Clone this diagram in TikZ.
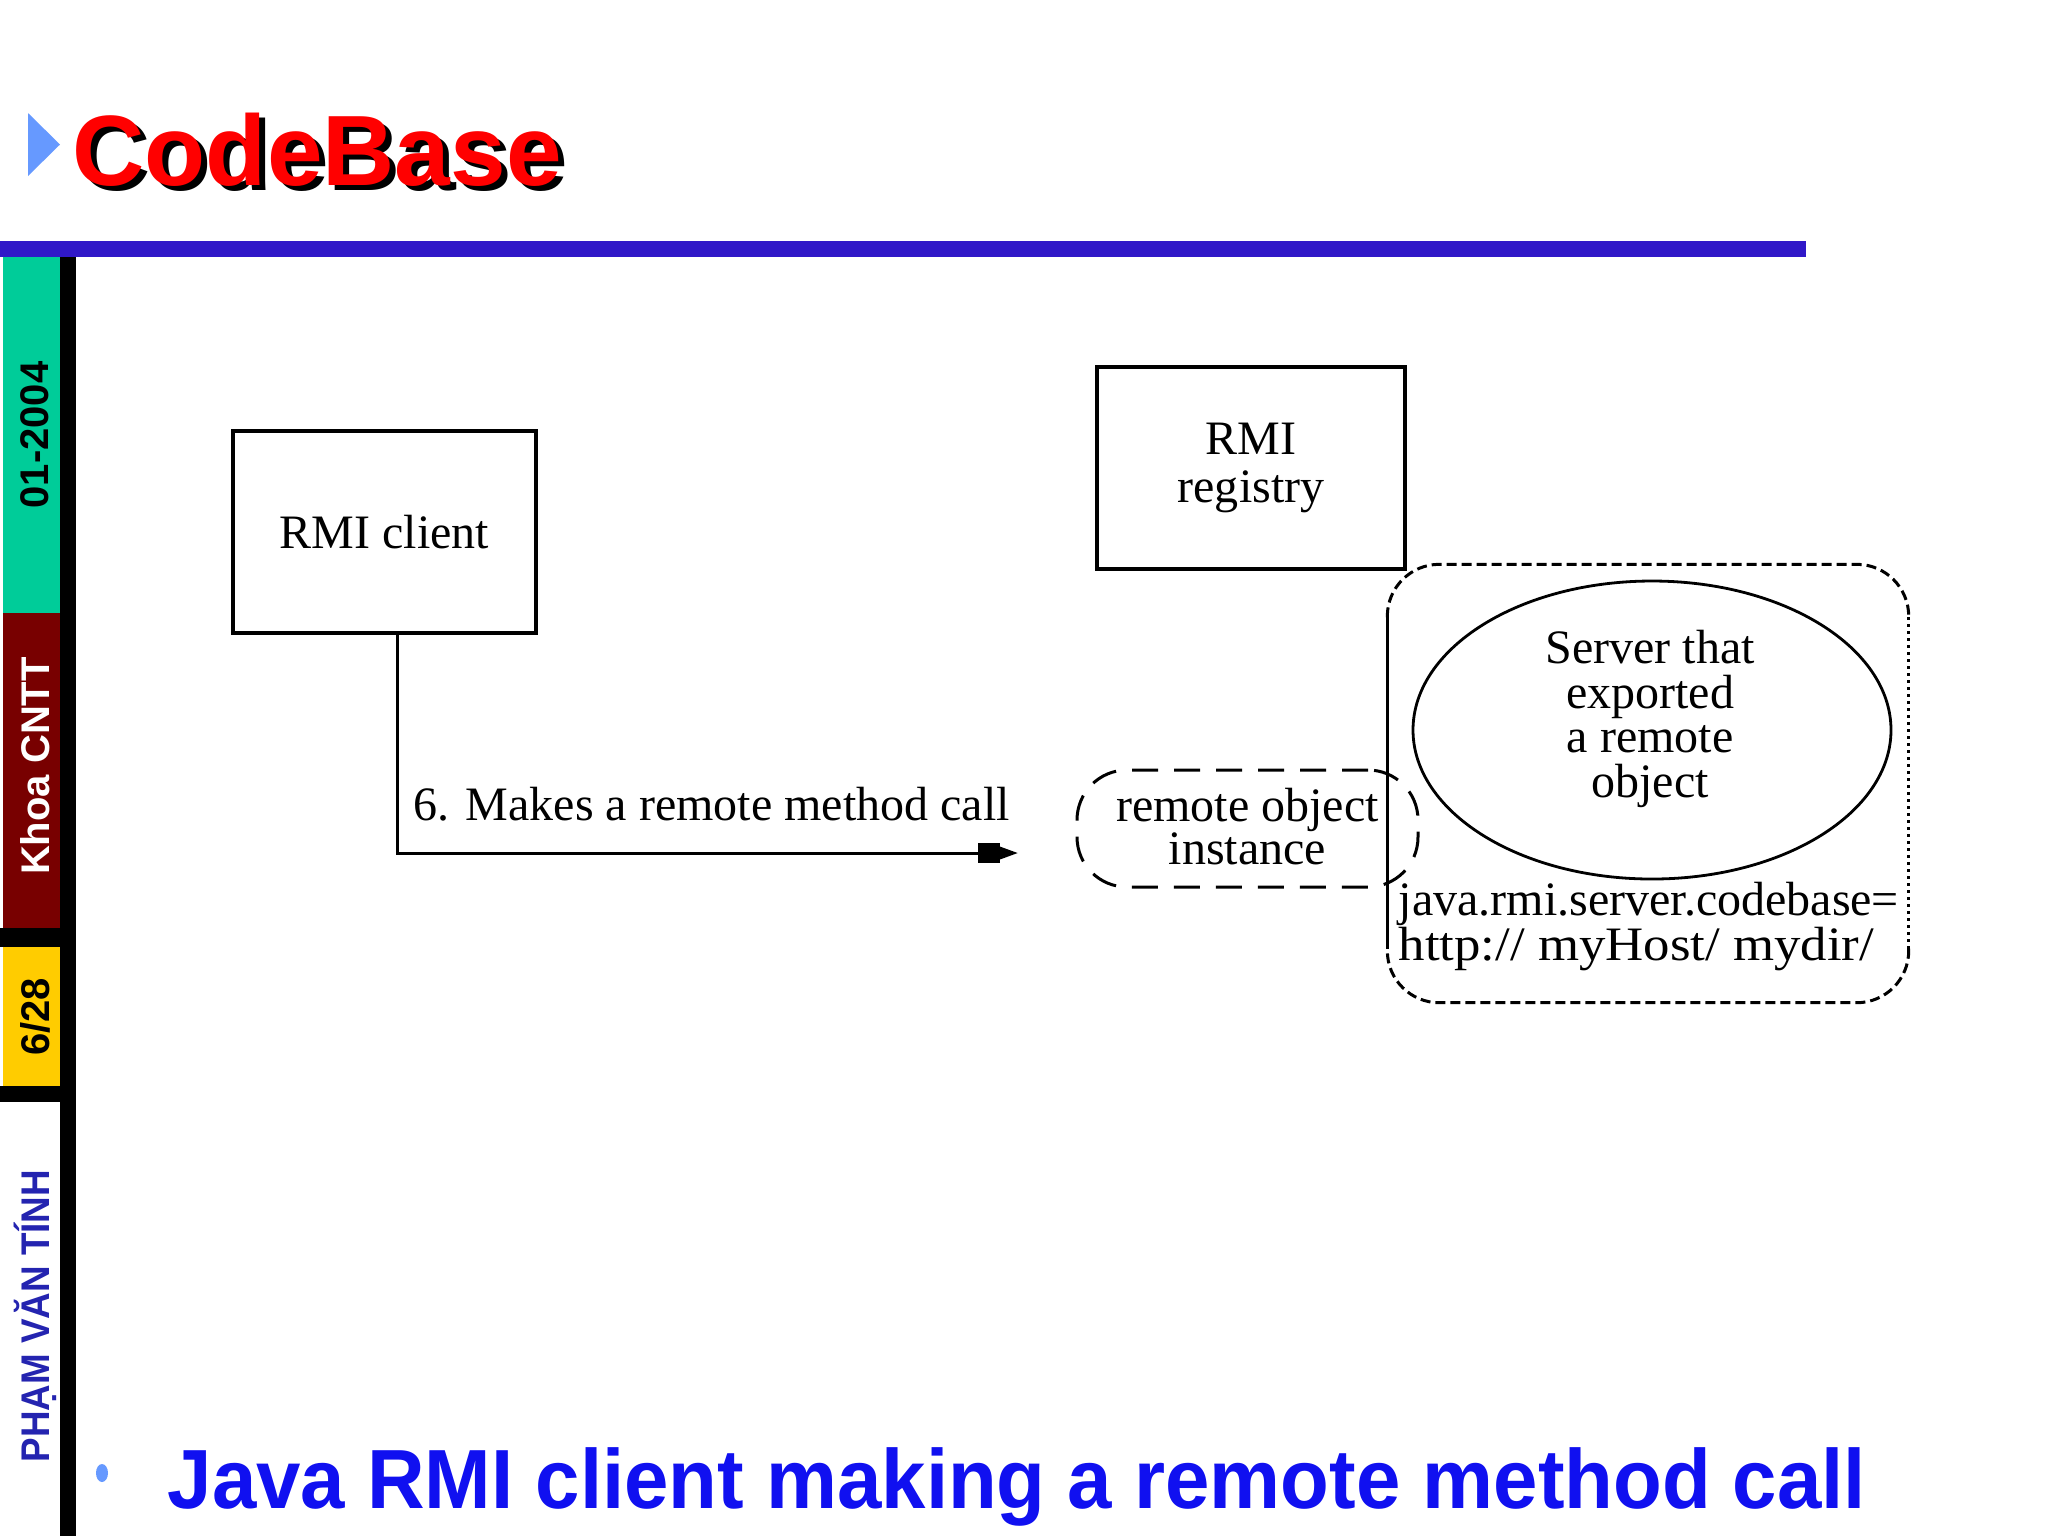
\documentclass[tikz,border=0pt]{standalone}
\usepackage{fontspec}
\setmainfont{Liberation Serif}
\newfontfamily\arialf{Liberation Sans}
\usetikzlibrary{shapes.geometric,arrows.meta,calc}
\definecolor{barblue}{RGB}{48,24,200}
\definecolor{sidegreen}{RGB}{0,204,153}
\definecolor{sidered}{RGB}{120,0,0}
\definecolor{sideyellow}{RGB}{255,204,0}
\definecolor{nameblue}{RGB}{36,36,176}
\definecolor{tribblue}{RGB}{102,153,255}
\definecolor{bottomblue}{RGB}{16,16,240}
\newcommand\dfont{\fontsize{13.66pt}{13.66pt}\selectfont}
\newcommand\sidefont{\arialf\bfseries\fontsize{11.38pt}{11.38pt}\selectfont}
\tikzset{
  boxnode/.style={draw, line width=0.32mm, rectangle, inner sep=0pt, font=\dfont, align=center},
  sidetext/.style={rotate=90, font=\sidefont, inner sep=0pt},
  conn/.style={line width=0.3mm, -{Rectangle[length=2.2mm,width=2mm,sep=0pt]Triangle[length=1.8mm,width=1.2mm,sep=0pt]}},
  dashlong/.style={line width=0.3mm, dash pattern=on 2.6mm off 1.6mm},
  dashshort/.style={line width=0.3mm, dash pattern=on 1mm off 0.5mm},
  dotright/.style={line width=0.28mm, dash pattern=on 0.25mm off 0.45mm},
  solidline/.style={line width=0.32mm},
  titletext/.style={font=\arialf\bfseries\fontsize{28.45pt}{28.45pt}\selectfont, inner sep=0pt, anchor=base west},
  plaintext/.style={font=\dfont, inner sep=0pt}
}
\begin{document}
\begin{tikzpicture}[x=0.1mm,y=-0.1mm]
\useasboundingbox (0,0) rectangle (2048,1536);
\fill[white] (0,0) rectangle (2048,1536);

% title (red text with black drop shadow)
\fill[tribblue] (28,113) -- (60,144.5) -- (28,176) -- cycle;
\node[titletext, text=red] (title) at (72,185) {\makebox[0pt][l]{\hspace{1.7pt}\raisebox{-1.7pt}{\color{black}CodeBase}}CodeBase};

% blue bar
\fill[barblue] (0,241) rectangle (1806,257);

% sidebar
\fill[sidegreen] (3,257) rectangle (60,613);
\fill[sidered] (3,613) rectangle (60,928);
\fill[black] (0,928) rectangle (60,947);
\fill[sideyellow] (3,947) rectangle (60,1086);
\fill[black] (0,1086) rectangle (60,1102);
\fill[black] (60,257) rectangle (76,1536);
\node[sidetext, text=black] (date) at (35,435) {01-2004};
\node[sidetext, text=white] (khoa) at (35,766) {Khoa CNTT};
\node[sidetext, text=black] (page) at (35,1017) {6/28};
\node[sidetext, text=nameblue] (author) at (35,1316) {\scalebox{0.92}[1]{PHẠM VĂN TÍNH}};

% diagram
\node[boxnode, minimum width=30.3mm, minimum height=20.2mm] (client) at (384.5,532) {RMI client};
\node[boxnode, minimum width=30.8mm, minimum height=20.2mm] (registry) at (1251,468) {RMI\\registry};

\node[rectangle, draw=none, minimum width=52mm, minimum height=43.7mm, inner sep=0pt] (server) at (1648,783.5) {};
\draw[solidline] ($(server.north west)+(0,53)$) -- ($(server.south west)+(0,-54)$);
\draw[dashshort, rounded corners=5.2mm] ($(server.north west)+(0,53)$) -- (server.north west) -- (server.north east) -- ($(server.north east)+(0,53)$);
\draw[dotright] ($(server.north east)+(0,53)$) -- ($(server.south east)+(0,-54)$);
\draw[dashshort, rounded corners=5.2mm] ($(server.south east)+(0,-54)$) -- (server.south east) -- (server.south west) -- ($(server.south west)+(0,-54)$);

\node[ellipse, draw, line width=0.28mm, minimum width=47.8mm, minimum height=29.8mm, inner sep=0pt] (srvellipse) at (1652,730) {};
\node[plaintext, align=center, font=\fontsize{13.66pt}{12.66pt}\selectfont] (srvtext) at (1650,719) {Server that\\exported\\a remote\\object};

\node[rectangle, draw, dashlong, rounded corners=5mm, minimum width=34.1mm, minimum height=11.7mm, inner sep=0pt, align=center, font=\fontsize{13.66pt}{12.23pt}\selectfont, text depth=0.5mm] (remote) at (1247.5,828.5) {remote object\\instance};

\node[plaintext, anchor=base west, align=left, font=\fontsize{13.66pt}{12.8pt}\selectfont] (codebase) at (1398,960) {java.rmi.server.codebase=\\\scalebox{1.1}[1]{http:// myHost/ mydir/}};

% connector
\coordinate (bend) at (397,853);
\coordinate (tip) at (1018,853);
\draw[conn] (client.south -| bend) -- (bend) -- (tip);
\node[plaintext, anchor=base west] (calllabel) at (413,820) {6. Makes a remote method call};

% bottom bullet
\fill[tribblue] (102,1473) ellipse (6 and 9);
\node[inner sep=0pt, anchor=base west, text=bottomblue, font=\arialf\bfseries\fontsize{23.9pt}{23.9pt}\selectfont] (caption) at (167,1508) {\scalebox{0.95}[1]{Java RMI client making a remote method call}};
\end{tikzpicture}
\end{document}
